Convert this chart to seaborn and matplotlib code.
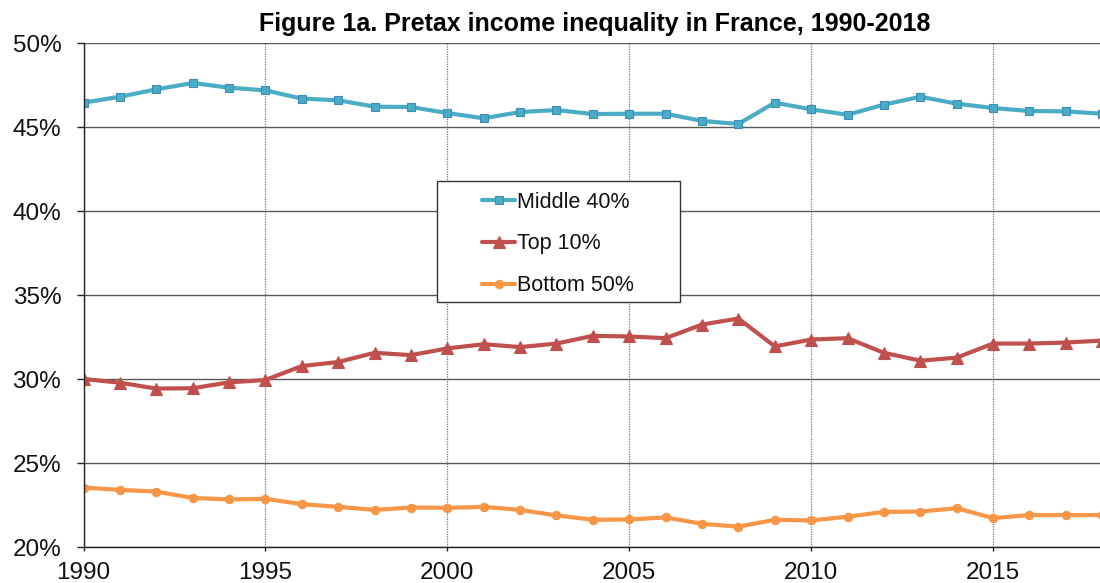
import matplotlib
matplotlib.use("Agg")
import matplotlib.pyplot as plt
import seaborn as sns
import pandas as pd
from matplotlib.ticker import FuncFormatter, MultipleLocator
from matplotlib.patches import Rectangle

years = list(range(1990, 2019))
middle40 = [46.45, 46.80, 47.24, 47.62, 47.34, 47.18, 46.69, 46.59, 46.21, 46.19,
            45.83, 45.52, 45.89, 46.01, 45.77, 45.79, 45.79, 45.36, 45.18, 46.45,
            46.05, 45.73, 46.33, 46.80, 46.39, 46.13, 45.95, 45.93, 45.79]
top10 = [30.00, 29.78, 29.43, 29.45, 29.80, 29.94, 30.77, 31.01, 31.56, 31.42,
         31.82, 32.07, 31.90, 32.11, 32.57, 32.53, 32.43, 33.24, 33.60, 31.94,
         32.35, 32.43, 31.56, 31.09, 31.27, 32.11, 32.11, 32.17, 32.29]
bottom50 = [23.54, 23.40, 23.30, 22.92, 22.83, 22.87, 22.55, 22.39, 22.21, 22.35,
            22.33, 22.39, 22.21, 21.88, 21.62, 21.64, 21.76, 21.38, 21.21, 21.62,
            21.58, 21.80, 22.09, 22.11, 22.31, 21.72, 21.90, 21.90, 21.90]
series_names = ["Middle 40%", "Top 10%", "Bottom 50%"]
title = "Figure 1a. Pretax income inequality in France, 1990-2018"

df = pd.DataFrame({
    "year": years * 3,
    "value": middle40 + top10 + bottom50,
    "group": [series_names[0]] * len(years) + [series_names[1]] * len(years) + [series_names[2]] * len(years),
})

sns.set_style("white")
plt.rcParams["font.family"] = ["Liberation Sans", "DejaVu Sans"]

W, H = 1100, 583
fig = plt.figure(figsize=(W / 100, H / 100), dpi=100)
ax = fig.add_axes([83.5 / W, (H - 547) / H, (W - 83.5) / W + 0.002, (547 - 43) / H])

palette = {"Middle 40%": "#4BACC6", "Top 10%": "#C0504D", "Bottom 50%": "#F79646"}
edge = {"Middle 40%": "#3C8DB8", "Top 10%": "#C0504D", "Bottom 50%": "#F79646"}
markers = {"Middle 40%": "s", "Top 10%": "^", "Bottom 50%": "o"}
sizes_m = {"Middle 40%": 6, "Top 10%": 8.5, "Bottom 50%": 6}

for name in series_names:
    sub = df[df["group"] == name]
    sns.lineplot(data=sub, x="year", y="value", ax=ax, color=palette[name],
                 marker=markers[name], markersize=sizes_m[name], linewidth=3.0,
                 markeredgewidth=0.8, markeredgecolor=edge[name],
                 label=name, clip_on=True)

ax.set_xlim(1990, 2018)
ax.set_ylim(20, 50)
ax.xaxis.set_major_locator(MultipleLocator(5))
ax.yaxis.set_major_locator(MultipleLocator(5))
ax.yaxis.set_major_formatter(FuncFormatter(lambda v, p: f"{v:.0f}%"))
ax.set_xlabel("")
ax.set_ylabel("")

ax.grid(axis="y", color="#5a5a5a", linewidth=1.0, linestyle="-")
ax.grid(axis="x", color="#777777", linewidth=0.9, linestyle=(0, (1, 1)))
ax.set_axisbelow(True)

for s in ["top", "right"]:
    ax.spines[s].set_visible(False)
ax.spines["left"].set_color("#222222")
ax.spines["bottom"].set_color("#222222")
ax.spines["left"].set_linewidth(1.0)
ax.spines["bottom"].set_linewidth(1.0)

ax.tick_params(axis="y", which="major", direction="out", length=5, width=1, color="#222222",
               labelsize=17.5, pad=11, left=True, labelcolor="#111111")
ax.tick_params(axis="x", which="major", direction="out", length=3, width=1, color="#222222",
               labelsize=17.5, pad=8, bottom=True, labelcolor="#111111")

fig.text(595 / W, 1 - 24 / H, title, ha="center", va="center", fontsize=18, fontweight="bold",
         color="#000000")

# legend frame box
box = Rectangle((437 / W, 1 - 302 / H), 243 / W, 121 / H, transform=fig.transFigure,
                facecolor="white", edgecolor="#333333", linewidth=1.0, zorder=4)
ax.add_patch(box)

leg = ax.legend(loc="center left", bbox_to_anchor=(482 / W, 1 - 244 / H),
                bbox_transform=fig.transFigure,
                frameon=False, fontsize=15.5,
                handlelength=1.55, handletextpad=0.08, labelspacing=0.97,
                borderpad=0, borderaxespad=0)
leg.set_zorder(5)
for t in leg.get_texts():
    t.set_color("#111111")

fig.savefig("out.png", dpi=100)
